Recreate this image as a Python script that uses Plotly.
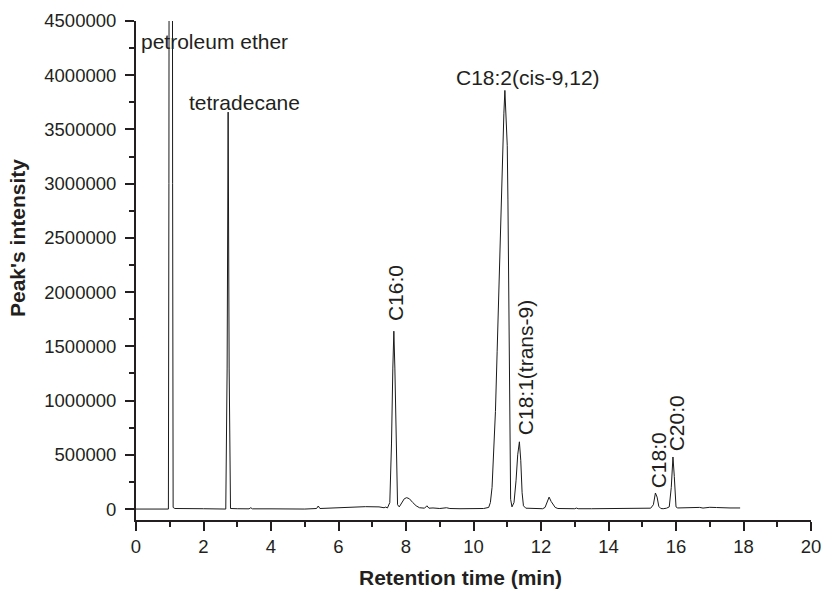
import plotly.graph_objects as go

# Retention time (min) and detector signal
time_min = [
    0.0, 0.5, 0.96, 0.975, 1.03, 1.085, 1.10, 1.15, 1.3, 1.6, 2.0, 2.4, 2.66,
    2.70, 2.73, 2.76, 2.80, 3.0, 3.35, 3.40, 3.45, 4.0, 4.6, 5.0, 5.35, 5.40,
    5.45, 5.8, 6.3, 6.8, 7.2, 7.35, 7.40, 7.45, 7.52, 7.57, 7.61, 7.64, 7.67,
    7.71, 7.75, 7.80, 7.88, 7.95, 8.02, 8.10, 8.20, 8.30, 8.40, 8.55, 8.62,
    8.68, 8.80, 9.0, 9.2, 9.3, 9.6, 10.0, 10.3, 10.45, 10.50, 10.55, 10.60,
    10.65, 10.70, 10.75, 10.80, 10.85, 10.90, 10.93, 10.96, 10.99, 11.00,
    11.02, 11.04, 11.06, 11.08, 11.10, 11.14, 11.20, 11.26, 11.31, 11.36,
    11.40, 11.44, 11.48, 11.55, 11.8, 12.05, 12.12, 12.18, 12.24, 12.30,
    12.36, 12.42, 12.50, 12.8, 13.0, 13.05, 13.10, 13.5, 14.0, 14.5, 15.0,
    15.25, 15.33, 15.39, 15.44, 15.49, 15.55, 15.62, 15.72, 15.80, 15.86,
    15.91, 15.95, 16.00, 16.05, 16.2, 16.5, 16.7, 16.8, 17.0, 17.2, 17.4,
    17.6, 17.9,
]
intensity = [
    0, 0, 0, 3000000, 26000000, 3000000, 15000, 5000, 3000, 4000, 3000, 3000, 0,
    1300000, 3660000, 1300000, 5000, 3000, 2000, 12000, 2000, 2000, 0, 0, 5000, 28000,
    5000, 10000, 18000, 22000, 20000, 12000, 18000, 10000, 60000, 600000, 1300000, 1640000, 1300000,
    500000, 40000, 20000, 60000, 95000, 105000, 95000, 60000, 30000, 12000, 8000, 30000,
    8000, 10000, 5000, 12000, 5000, 3000, 3000, 5000, 15000, 60000, 200000, 500000,
    900000, 1450000, 2050000, 2650000, 3200000, 3650000, 3860000, 3650000, 3400000, 3350000,
    2850000, 2150000, 1350000, 550000, 90000, 20000, 60000, 260000, 500000, 620000,
    450000, 150000, 30000, 8000, 3000, 3000, 15000, 60000, 110000, 70000,
    40000, 15000, 5000, 3000, 3000, 9000, 3000, 3000, 3000, 3000, 6000,
    8000, 40000, 148000, 110000, 25000, 5000, 3000, 8000, 20000, 200000,
    480000, 300000, 20000, 10000, 12000, 10000, 15000, 9000, 16000, 14000, 15000,
    10000, 10000,
]

label_text = ["petroleum ether", "tetradecane", "C18:2(cis-9,12)", "C16:0",
              "C18:1(trans-9)", "C18:0", "C20:0"]
label_time = [0.1, 3.2, 11.6, 7.67, 11.53, 15.47, 16.0]
label_int = [4310000, 3750000, 3980000, 1990000, 1300000, 450000, 790000]
label_angle = [0, 0, 0, -90, -90, -90, -90]

x_ticks = [0, 2, 4, 6, 8, 10, 12, 14, 16, 18, 20]
y_ticks = [0, 500000, 1000000, 1500000, 2000000, 2500000, 3000000, 3500000, 4000000, 4500000]

INK = "#231f20"
FONT = "Liberation Sans, Arial, sans-serif"

fig = go.Figure()
fig.add_trace(go.Scatter(x=time_min, y=intensity, mode="lines",
                         line=dict(color="#1a1a1a", width=1), showlegend=False,
                         hoverinfo="skip"))

annotations = []
for txt, tx, ty, ang in zip(label_text, label_time, label_int, label_angle):
    annotations.append(dict(
        x=tx, y=ty, xref="x", yref="y", text=txt, showarrow=False,
        textangle=ang,
        xanchor="left" if txt == "petroleum ether" else "center",
        yanchor="middle",
        font=dict(family=FONT, size=21, color=INK),
    ))
annotations.append(dict(x=460, y=577, xref="paper", yref="paper", text="<b>Retention time (min)</b>",
                        showarrow=False, xanchor="center", yanchor="middle",
                        font=dict(family=FONT, size=21, color=INK)))
annotations.append(dict(x=17, y=238, xref="paper", yref="paper", text="<b>Peak's intensity</b>",
                        showarrow=False, xanchor="center", yanchor="middle", textangle=-90,
                        font=dict(family=FONT, size=21, color=INK)))

W, H = 823, 590
L, R, T, B = 136, 12, 21, 70
# convert pixel positions for axis titles to paper coords
for a in annotations[-2:]:
    a["x"] = (a["x"] - L) / (W - L - R)
    a["y"] = 1 - (a["y"] - T) / (H - T - B)

fig.update_layout(
    width=W, height=H,
    margin=dict(l=L, r=R, t=T, b=B, pad=0, autoexpand=False),
    paper_bgcolor="white", plot_bgcolor="white",
    font=dict(family=FONT, size=18, color=INK),
    annotations=annotations,
)
fig.update_xaxes(
    range=[0, 20], tickvals=x_ticks, ticktext=[str(v) for v in x_ticks],
    automargin=False,
    showgrid=False, zeroline=False, showline=True, linecolor=INK, linewidth=2,
    ticks="outside", ticklen=9, tickwidth=2, tickcolor=INK,
    minor=dict(dtick=1, ticks="outside", ticklen=5, tickwidth=2, tickcolor=INK, showgrid=False),
    tickfont=dict(size=18.5, color=INK, family=FONT),
)
fig.update_yaxes(
    range=[-101000, 4500000], tickvals=y_ticks, ticktext=[str(v) for v in y_ticks],
    automargin=False, ticklabelstandoff=5,
    showgrid=False, zeroline=False, showline=True, linecolor=INK, linewidth=2,
    ticks="outside", ticklen=9, tickwidth=2, tickcolor=INK,
    minor=dict(tickvals=[250000, 750000, 1250000, 1750000, 2250000, 2750000, 3250000, 3750000, 4250000],
               ticks="outside", ticklen=5, tickwidth=2, tickcolor=INK, showgrid=False),
    tickfont=dict(size=18.5, color=INK, family=FONT),
)

fig.write_html("out.html", config={"displayModeBar": False},
               post_script="document.body.style.margin='0';document.body.style.overflow='hidden';")
